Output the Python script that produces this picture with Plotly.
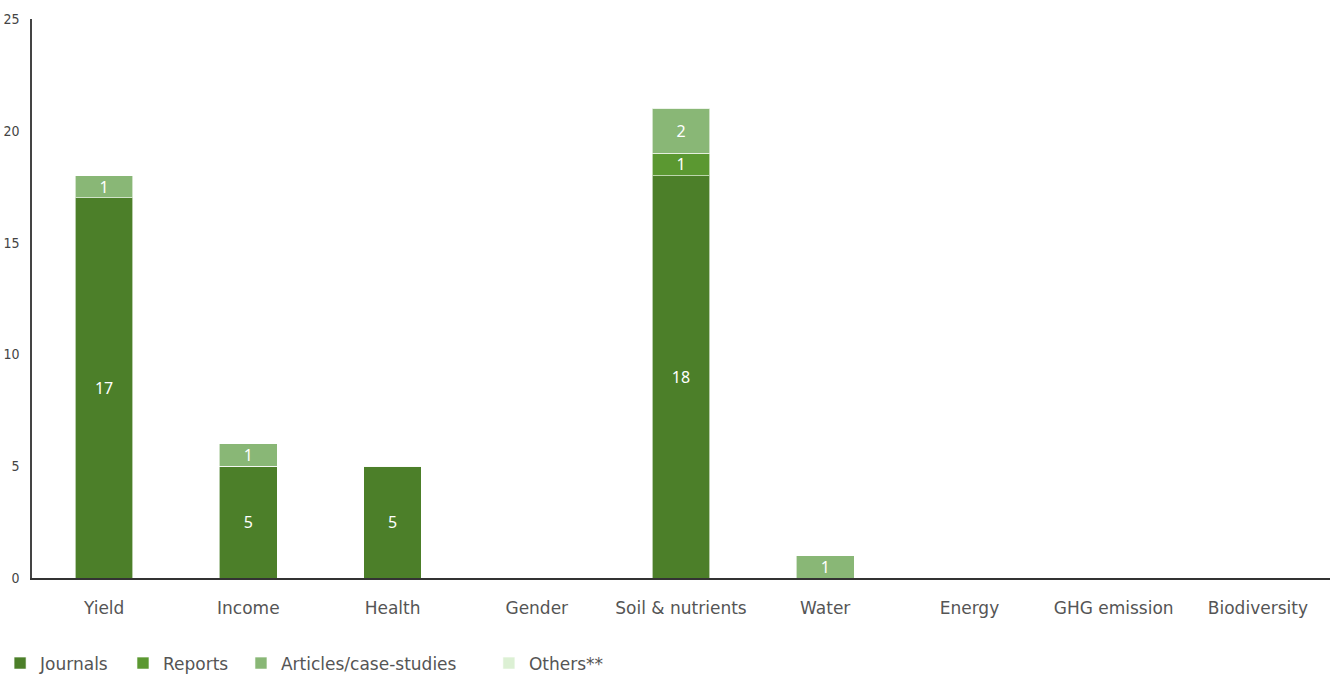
import plotly.graph_objects as go

categories = ["Yield", "Income", "Health", "Gender", "Soil & nutrients", "Water", "Energy", "GHG emission", "Biodiversity"]
journals = [17, 5, 5, 0, 18, 0, 0, 0, 0]
reports = [0, 0, 0, 0, 1, 0, 0, 0, 0]
articles = [1, 1, 0, 0, 2, 1, 0, 0, 0]
others = [0, 0, 0, 0, 0, 0, 0, 0, 0]
y_ticks = [0, 5, 10, 15, 20, 25]

series = [
    ("Journals", journals, "#4c7f29", "legend", -0.0246),
    ("Reports", reports, "#5b9831", "legend2", 0.0701),
    ("Articles/case-studies", articles, "#89b776", "legend3", 0.161),
    ("Others**", others, "#dcf0d4", "legend4", 0.352),
]

fig = go.Figure()
legend_layout = {}
for name, vals, color, leg, lx in series:
    fig.add_trace(go.Bar(
        x=categories, y=vals, name=name, legend=leg, showlegend=True,
        marker=dict(color=color, line=dict(color="rgba(255,255,255,0.6)", width=1)),
        text=[str(v) if v else "" for v in vals],
        textposition="inside", insidetextanchor="middle", textangle=0,
        constraintext="none",
        textfont=dict(color="white", size=16, family="Noto Sans"),
        hoverinfo="x+y+name",
    ))
    legend_layout[leg] = dict(
        orientation="h", x=lx, xanchor="left", y=-0.153, yanchor="middle",
        font=dict(size=17, color="#555555", family="DejaVu Sans"),
        bgcolor="rgba(0,0,0,0)", visible=True,
    )

fig.update_layout(
    barmode="stack", bargap=0.6,
    width=1334, height=674,
    margin=dict(l=32, r=4, t=19, b=96, autoexpand=False),
    plot_bgcolor="white", paper_bgcolor="white",
    font=dict(family="DejaVu Sans", color="#555555"),
    uniformtext=dict(minsize=8, mode="show"),
    showlegend=True,
    xaxis=dict(showgrid=False, showline=True, linecolor="#333333", linewidth=1.5,
               tickfont=dict(size=17, color="#555555", family="DejaVu Sans"), ticks="",
               ticklabelstandoff=14, automargin=False),
    yaxis=dict(range=[0, 25], tickvals=y_ticks, showgrid=False, zeroline=False,
               showline=True, linecolor="#444444", linewidth=1.5, ticks="",
               ticklabelstandoff=8, automargin=False,
               tickfont=dict(size=14, color="#444444", family="DejaVu Sans Condensed")),
    **legend_layout,
)

fig.write_html("out.html", config={"displayModeBar": False},
               post_script="document.body.style.margin='0px';document.body.style.overflow='hidden';")
